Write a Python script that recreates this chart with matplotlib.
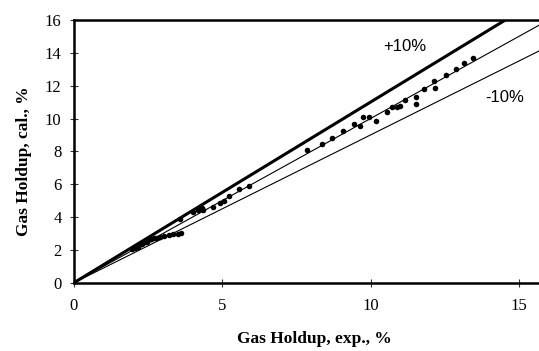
import matplotlib as mpl; mpl.use("Agg")
import matplotlib.pyplot as plt
import numpy as np

# measured (exp.) vs calculated gas holdup, %
exp_holdup = [1.95, 2.05, 2.15, 2.2, 2.3, 2.35, 2.45, 2.5, 2.6, 2.7,
              2.4, 2.6, 2.75, 2.9, 3.05, 3.2, 3.35, 3.5, 3.6,
              3.57, 4.02, 4.19, 4.3, 4.36, 4.7, 4.92, 5.05, 5.24, 5.56, 5.91,
              7.84, 8.35, 8.69, 9.06, 9.44, 9.66, 9.75, 9.95, 10.17, 10.54,
              10.71, 10.88, 10.99, 11.16, 11.53, 11.53, 11.8, 12.17, 12.15,
              12.54, 12.88, 13.16, 13.44]
cal_holdup = [2.05, 2.1, 2.2, 2.3, 2.35, 2.45, 2.5, 2.6, 2.65, 2.75,
              2.5, 2.65, 2.72, 2.78, 2.85, 2.9, 2.95, 2.98, 3.05,
              3.88, 4.33, 4.43, 4.53, 4.45, 4.63, 4.85, 4.97, 5.26, 5.69, 5.91,
              8.08, 8.45, 8.79, 9.26, 9.66, 9.54, 10.07, 10.11, 9.87, 10.41,
              10.72, 10.68, 10.76, 11.13, 11.33, 10.88, 11.78, 11.84, 12.28,
              12.65, 13.01, 13.36, 13.67]
band_factors = [1.1, 1.0, 0.9]
band_widths = [2.2, 0.8, 0.8]
xticks = [0, 5, 10, 15]
yticks = list(range(0, 17, 2))

plt.rcParams.update({"font.family": "serif",
                     "font.serif": ["Liberation Serif", "DejaVu Serif"]})

fig = plt.figure(figsize=(5.39, 3.51), dpi=100)
ax = fig.add_axes([74/539, 68.3/351, 1 - 74/539, 262.7/351])

xs = np.array([0, 16.0])
for f, lw in zip(band_factors, band_widths):
    ax.plot(xs, f*xs, "-", c="k", lw=lw, solid_capstyle="butt")
ax.plot(exp_holdup, cal_holdup, "o", c="k", ms=4.0, mew=0)

ax.text(11.15, 14.4, "+10%", family="Liberation Sans", fontsize=12, ha="center", va="center")
ax.text(14.53, 11.25, "-10%", family="Liberation Sans", fontsize=12, ha="center", va="center")

ax.set_xlim(0, 15.68); ax.set_ylim(0, 16)
ax.set_xticks(xticks); ax.set_yticks(yticks)
ax.tick_params(direction="inout", length=6, width=0.8, labelsize=12, color="#333")
ax.tick_params(axis="x", pad=8); ax.tick_params(axis="y", pad=6)
for s in ["left", "bottom", "top"]:
    ax.spines[s].set_linewidth(1.8)
ax.spines["right"].set_visible(False)

ax.set_xlabel("Gas Holdup, exp., %", fontsize=12.5, fontweight="bold")
ax.set_ylabel("Gas Holdup, cal., %", fontsize=12.5, fontweight="bold")
ax.xaxis.set_label_coords(0.516, -0.185)
ax.yaxis.set_label_coords(-0.09, 0.463)

fig.savefig("out.png", dpi=100)
